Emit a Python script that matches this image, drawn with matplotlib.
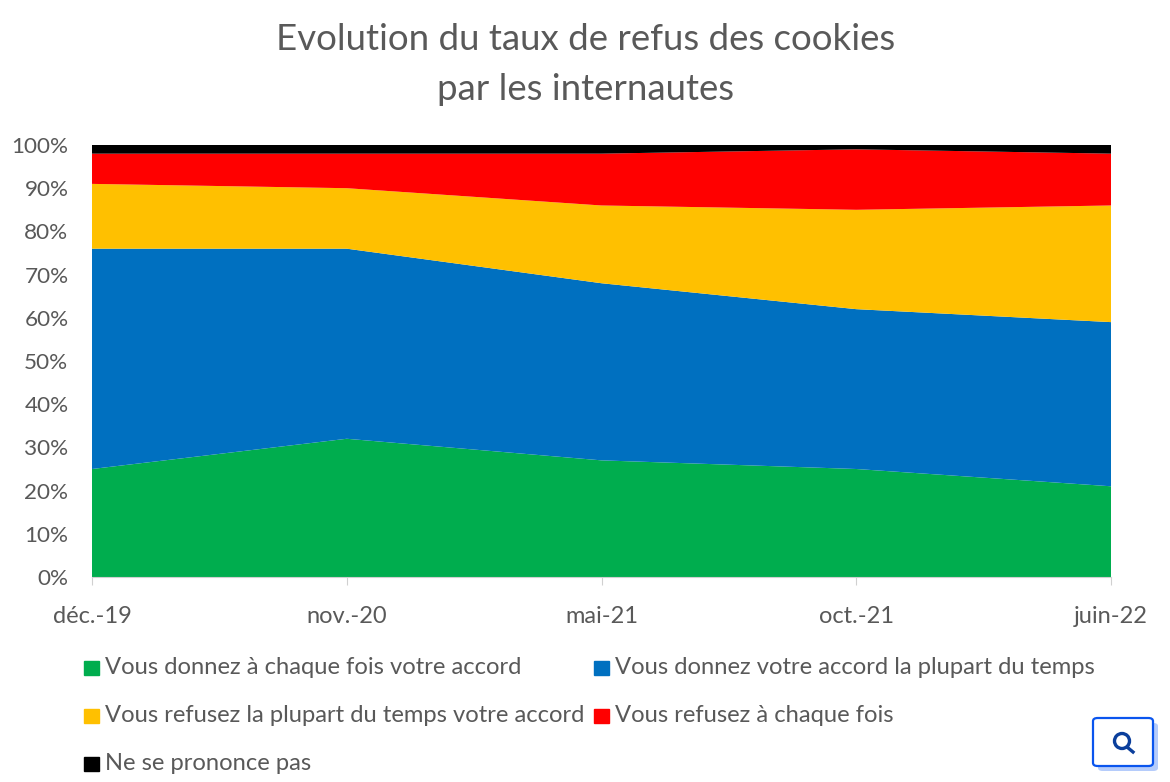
import matplotlib.pyplot as plt
from matplotlib.patches import FancyBboxPatch, Rectangle, Ellipse
from matplotlib.lines import Line2D

months = ['déc.-19', 'nov.-20', 'mai-21', 'oct.-21', 'juin-22']
accord_toujours = [25, 32, 27, 25, 21]
accord_souvent = [51, 44, 41, 37, 38]
refus_souvent = [15, 14, 18, 23, 27]
refus_toujours = [7, 8, 12, 14, 12]
sans_avis = [2, 2, 2, 1, 2]

labels = ['Vous donnez à chaque fois votre accord',
          'Vous donnez votre accord la plupart du temps',
          'Vous refusez la plupart du temps votre accord',
          'Vous refusez à chaque fois',
          'Ne se prononce pas']
colors = ['#00ad4e', '#0070c0', '#ffc000', '#ff0000', '#000000']
text_color = '#595959'

# Lato is the closest installed face to the Calibri look of the original
plt.rcParams['font.family'] = 'Lato'

W, H = 1170, 782
fig = plt.figure(figsize=(W / 100, H / 100), dpi=100)
ax = fig.add_axes([92 / W, 1 - 577 / H, (1111 - 92) / W, (577 - 145) / H])

x = range(len(months))
ax.stackplot(x, accord_toujours, accord_souvent, refus_souvent, refus_toujours, sans_avis,
             colors=colors, linewidth=0)
ax.set_xlim(0, 4)
ax.set_ylim(0, 100)
ax.set_xticks(list(x))
ax.set_xticklabels(months)
ax.set_yticks(range(0, 101, 10))
ax.set_yticklabels([f'{v}%' for v in range(0, 101, 10)])
ax.tick_params(axis='x', labelsize=17, colors=text_color, length=6, color='#d0d0d0', pad=15)
ax.tick_params(axis='y', labelsize=16.2, colors=text_color, length=0, pad=17)
for s in ['top', 'right', 'left']:
    ax.spines[s].set_visible(False)
ax.spines['bottom'].set_color('#d0d0d0')

fig.text(585.5 / W, 1 - 40 / H, 'Evolution du taux de refus des cookies', ha='center', va='center',
         fontsize=26.4, color=text_color)
fig.text(585.5 / W, 1 - 89 / H, 'par les internautes', ha='center', va='center',
         fontsize=26.4, color=text_color)

# legend by hand, the layout is not a regular grid
leg_x = [84, 594, 84, 594, 84]
leg_y = [668, 668, 716, 716, 764]
for lab, c, lx, ly in zip(labels, colors, leg_x, leg_y):
    fig.add_artist(Rectangle((lx / W, 1 - (ly + 7) / H), 15 / W, 14 / H, color=c,
                             transform=fig.transFigure))
    fig.text((lx + 21) / W, 1 - ly / H, lab, ha='left', va='center', fontsize=17.1, color=text_color)

# search button in the corner
fig.add_artist(FancyBboxPatch((1098 / W, 1 - 771 / H), 60 / W, 48 / H,
                              boxstyle='round,pad=0,rounding_size=0.004',
                              facecolor='#b5ccfb', edgecolor='none',
                              transform=fig.transFigure))
fig.add_artist(FancyBboxPatch((1093 / W, 1 - 766 / H), 60 / W, 48 / H,
                              boxstyle='round,pad=0,rounding_size=0.004',
                              facecolor='white', edgecolor='#0a55ee', linewidth=1.6,
                              transform=fig.transFigure))
fig.add_artist(Ellipse((1122 / W, 1 - 741 / H), 15 / W, 15 / H, fill=False, edgecolor='#0b3f9c',
                       linewidth=2.4, transform=fig.transFigure))
fig.add_artist(Line2D([1127 / W, 1133 / W], [1 - 747 / H, 1 - 752 / H], color='#0b3f9c', linewidth=2.4,
                      transform=fig.transFigure))

fig.savefig('out.png', dpi=100)
